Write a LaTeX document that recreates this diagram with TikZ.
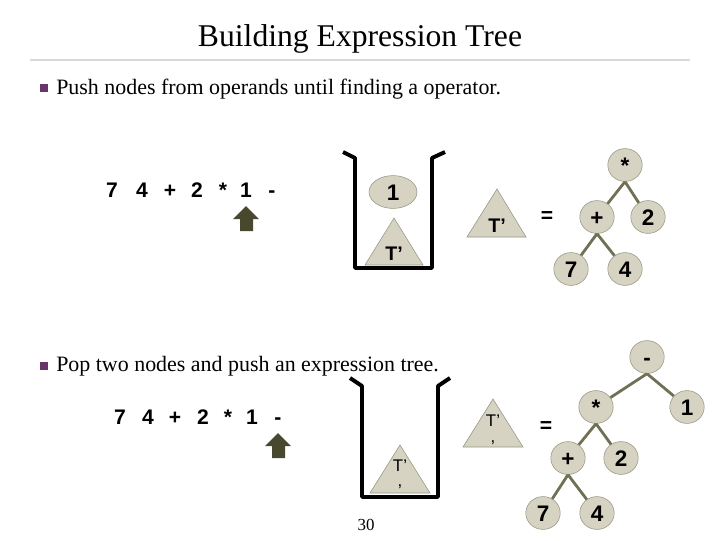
\documentclass[tikz,border=0pt]{standalone}
\usepackage{fontspec}
\setmainfont{Liberation Serif}
\newfontfamily\arialfont{Liberation Sans}
\usetikzlibrary{shapes.geometric, positioning}

\definecolor{nodefill}{RGB}{214,211,194}
\definecolor{nodeline}{RGB}{150,150,130}
\definecolor{edgecol}{RGB}{112,112,84}
\definecolor{arrowcol}{RGB}{72,72,46}
\definecolor{bulletcol}{RGB}{104,52,108}

\begin{document}
\begin{tikzpicture}[
    x=0.025cm, y=-0.025cm,
    tnode/.style={ellipse, draw=nodeline, fill=nodefill, minimum width=0.86cm, minimum height=0.82cm, inner sep=0pt, text height=11.5pt, text depth=0pt, font=\arialfont\bfseries\fontsize{16}{16}\selectfont},
    wnode/.style={tnode, minimum width=1.2cm},
    tri/.style={draw=nodeline, fill=nodefill},
    edge/.style={draw=edgecol, line width=2pt},
    stackline/.style={line width=2.8pt, line join=round},
    tok/.style={inner sep=0pt, text height=10.5pt, text depth=0pt, font=\arialfont\bfseries\fontsize{15}{15}\selectfont},
    tlabel/.style={inner sep=0pt, font=\arialfont\bfseries\fontsize{14}{14}\selectfont},
    plabel/.style={inner sep=0pt, font=\arialfont\fontsize{12}{12}\selectfont},
    bullet/.style={fill=bulletcol, minimum size=0.2cm, inner sep=0pt},
    btext/.style={anchor=west, inner sep=0pt, font=\fontsize{15.6}{16}\selectfont},
    uparrow/.style={fill=arrowcol}
]
\useasboundingbox (0,0) rectangle (720,540);

% Title
\node[font=\fontsize{22.5}{22.5}\selectfont] (title) at (360,39) {Building Expression Tree};
\draw[black!15, line width=0.8pt] (30,60) -- (690,60);

% First step: push
\node[bullet] (b1) at (44,88) {};
\node[btext] (txt1) at (56,89) {Push nodes from operands until finding a operator.};
\foreach \t/\x [count=\i] in {7/112, 4/142, +/170, 2/197, */223, 1/246, -/272}
    \node[tok] (ea\i) at (\x,190) {\t};
\fill[uparrow] (246,206) -- (259,219) -- (253,219) -- (253,231) -- (240,231) -- (240,219) -- (233,219) -- cycle;

% stack
\draw[stackline] (343,152) -- (355,158) -- (355,268) -- (432,268) -- (432,158) -- (445,152);
\node[wnode] (one) at (393,192) {1};
\draw[tri] (394,218) -- (423,265) -- (365,265) -- cycle;
\node[tlabel] (ta) at (394,254) {T’};

% T' = tree
\draw[tri] (497,189) -- (526,237) -- (467,237) -- cycle;
\node[tlabel] (tb) at (497,226) {T’};
\node[tok] (eqa) at (547,215) {=};
\node[tnode] (star) at (625,165) {*};
\node[tnode] (plus) at (597,217) {+};
\node[tnode] (two) at (648,217) {2};
\node[tnode] (seven) at (571,269) {7};
\node[tnode] (four) at (625,269) {4};
\draw[edge] (star.south) -- (plus);
\draw[edge] (star.south) -- (two);
\draw[edge] (plus.south) -- (seven);
\draw[edge] (plus.south) -- (four);

% Second step: pop and push
\node[bullet] (b2) at (44,366) {};
\node[btext] (txt2) at (56,366) {Pop two nodes and push an expression tree.};
\foreach \t/\x [count=\i] in {7/120, 4/148, +/175, 2/203, */228, 1/252, -/278}
    \node[tok] (eb\i) at (\x,417) {\t};
\fill[uparrow] (278,433) -- (291,446) -- (285,446) -- (285,458) -- (272,458) -- (272,446) -- (265,446) -- cycle;

% stack
\draw[stackline] (350,378) -- (362,386) -- (362,497) -- (438,497) -- (438,386) -- (450,378);
\draw[tri] (400,445) -- (430,493) -- (370,493) -- cycle;
\node[plabel] (tc) at (400,466) {T’};
\node[plabel] (tcc) at (400,487) {,};
\node[font=\fontsize{12}{12}\selectfont] (page) at (366,525) {30};

% T' = tree
\draw[tri] (493,399) -- (523,447) -- (463,447) -- cycle;
\node[plabel] (td) at (493,421) {T’};
\node[plabel] (tdd) at (493,443) {,};
\node[tok] (eqb) at (546,425) {=};
\node[tnode] (minus) at (647,357) {-};
\node[tnode] (starb) at (596,407) {*};
\node[tnode] (oneb) at (687,407) {1};
\node[tnode] (plusb) at (568,458) {+};
\node[tnode] (twob) at (621,458) {2};
\node[tnode] (sevenb) at (543,513) {7};
\node[tnode] (fourb) at (597,513) {4};
\draw[edge] (minus.south) -- (starb);
\draw[edge] (minus.south) -- (oneb);
\draw[edge] (starb.south) -- (plusb);
\draw[edge] (starb.south) -- (twob);
\draw[edge] (plusb.south) -- (sevenb);
\draw[edge] (plusb.south) -- (fourb);

\end{tikzpicture}
\end{document}
